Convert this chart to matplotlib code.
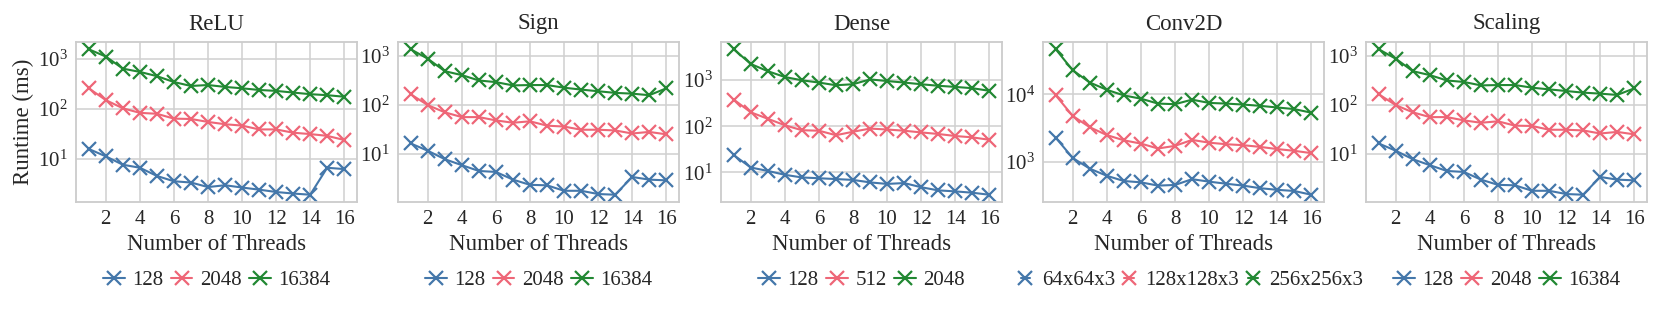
import numpy as np
import matplotlib
matplotlib.use("Agg")
import matplotlib.pyplot as plt
import seaborn as sns

sns.set_style("whitegrid")
plt.rcParams['font.family'] = ['Liberation Serif', 'DejaVu Serif']
plt.rcParams['mathtext.fontset'] = 'stix'

threads = np.arange(1, 17)
colors = ['#4477AA', '#EE6677', '#228833']

titles = ['ReLU', 'Sign', 'Dense', 'Conv2D', 'Scaling']

relu_labels = ['128', '2048', '16384']
relu_128 = [15.9, 11.3, 7.7, 6.7, 4.6, 3.6, 3.4, 2.76, 3.0, 2.7, 2.45, 2.2, 2.05, 1.94, 6.7, 6.3]
relu_2048 = [258, 150, 103, 83.5, 80, 64, 63, 55, 49.5, 46.5, 39, 39, 33.5, 31.5, 29, 24]
relu_16384 = [1550, 1110, 637, 548, 451, 344, 287, 300, 275, 258, 239, 229, 212, 197, 188, 175]

sign_labels = ['128', '2048', '16384']
sign_128 = [16.3, 11.6, 7.8, 5.9, 4.5, 4.3, 3.0, 2.35, 2.3, 1.78, 1.78, 1.53, 1.48, 3.4, 3.0, 2.9]
sign_2048 = [163, 98, 70, 56, 56, 48, 43, 46, 37.5, 36, 31, 31, 30, 26, 28, 25]
sign_16384 = [1340, 860, 480, 400, 311, 288, 247, 251, 251, 222, 203, 188, 174, 168, 156, 215]

dense_labels = ['128', '512', '2048']
dense_128 = [23.7, 12.8, 10.8, 8.9, 7.8, 7.5, 7.2, 6.9, 6.1, 5.65, 5.9, 4.8, 4.1, 3.9, 3.65, 3.3]
dense_512 = [377, 200, 145, 105, 82, 80, 64, 76, 89, 85, 80, 73.5, 68, 61.5, 57.5, 51]
dense_2048 = [4620, 2220, 1550, 1160, 985, 880, 770, 810, 1030, 950, 880, 810, 750, 710, 665, 585]

conv_labels = ['64x64x3', '128x128x3', '256x256x3']
conv_64 = [2290, 1150, 800, 628, 526, 503, 450, 460, 560, 515, 480, 450, 412, 390, 375, 330]
conv_128 = [9680, 4810, 3270, 2510, 2100, 1880, 1590, 1740, 2130, 1940, 1840, 1780, 1680, 1560, 1470, 1360]
conv_256 = [46500, 22700, 15000, 11700, 9680, 8660, 7330, 7180, 8380, 7500, 7330, 7090, 6790, 6420, 6080, 5380]

scaling_labels = ['128', '2048', '16384']
scaling_128 = [16.3, 11.6, 7.8, 5.9, 4.5, 4.3, 3.0, 2.35, 2.3, 1.78, 1.78, 1.53, 1.48, 3.4, 3.0, 2.9]
scaling_2048 = [163, 98, 70, 56, 56, 48, 43, 46, 37.5, 37, 31, 31, 30, 26, 28, 25]
scaling_16384 = [1340, 860, 480, 400, 311, 290, 247, 251, 251, 222, 205, 190, 176, 168, 158, 215]

panels = [
    (relu_labels, [relu_128, relu_2048, relu_16384]),
    (sign_labels, [sign_128, sign_2048, sign_16384]),
    (dense_labels, [dense_128, dense_512, dense_2048]),
    (conv_labels, [conv_64, conv_128, conv_256]),
    (scaling_labels, [scaling_128, scaling_2048, scaling_16384]),
]

W, H = 1661, 311
fig = plt.figure(figsize=(W / 100, H / 100), dpi=100)
lefts = [76, 398, 721, 1043, 1366]
ax_w, top, bottom = 281, 42, 202

for i, (labels, series) in enumerate(panels):
    ax = fig.add_axes([lefts[i] / W, (H - bottom) / H, ax_w / W, (bottom - top) / H])
    for vals, lab, c in zip(series, labels, colors):
        ax.plot(threads, vals, color=c, marker='x', markersize=10,
                markeredgewidth=1.6, linewidth=1.5, label=lab)
    ax.set_yscale('log')
    ax.set_xticks(range(2, 17, 2))
    ax.yaxis.set_minor_locator(matplotlib.ticker.NullLocator())
    ax.tick_params(axis='both', length=0, labelsize=15, pad=6, colors='#262626')
    ax.set_title(titles[i], fontsize=16.5, pad=9, color='#262626')
    ax.set_xlabel('Number of Threads', fontsize=16.5, labelpad=3, color='#262626')
    if i == 0:
        ax.set_ylabel('Runtime (ms)', fontsize=16.5, labelpad=3, color='#262626')
    ax.grid(True, color='#d0d0d0', linewidth=1.1)
    for s in ax.spines.values():
        s.set_color('#cccccc')
        s.set_linewidth(1.3)
    if i == 3:
        ax.legend(loc='upper center', bbox_to_anchor=(0.53, -0.43), ncol=3,
                  frameon=False, fontsize=15, handlelength=0.45, handletextpad=0.55,
                  columnspacing=0.45, borderpad=0.0, borderaxespad=0.0)
    else:
        ax.legend(loc='upper center', bbox_to_anchor=(0.5, -0.43), ncol=3,
                  frameon=False, fontsize=15, handlelength=1.05, handletextpad=0.35,
                  columnspacing=0.35, borderpad=0.0, borderaxespad=0.0)

fig.savefig('out.png', dpi=100)
